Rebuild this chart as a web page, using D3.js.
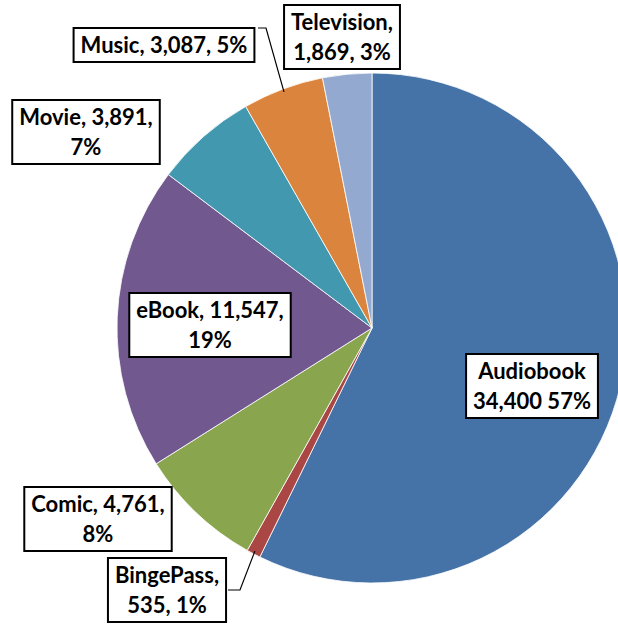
<!DOCTYPE html>
<html>
<head>
<meta charset="utf-8">
<script src="https://cdn.jsdelivr.net/npm/d3@7/dist/d3.min.js"></script>
<style>
  html, body { margin: 0; padding: 0; background: #fff; }
  svg { display: block; }
  text { font-family: Lato, "Liberation Sans", sans-serif; font-weight: bold; }
</style>
</head>
<body>
<svg id="chart" width="618" height="628"></svg>
<script>
// Sales by product category
const categories = ["Audiobook", "BingePass", "Comic", "eBook", "Movie", "Music", "Television"];
const values = [34400, 535, 4761, 11547, 3891, 3087, 1869];
const percentLabels = ["57%", "1%", "8%", "19%", "7%", "5%", "3%"];
const colors = ["#4572A7", "#AA4643", "#89A54E", "#71588F", "#4198AF", "#DB843D", "#93A9CF"];

// Label text lines per category
const fmt = d3.format(",");
function labelLines(i) {
  const c = categories[i], v = fmt(values[i]), p = percentLabels[i];
  switch (c) {
    case "Audiobook": return [c, v + " " + p];
    case "BingePass": return [c + ",", v + ", " + p];
    case "Television": return [c + ",", v + ", " + p];
    case "Music": return [c + ", " + v + ", " + p];
    default: return [c + ", " + v + ",", p];
  }
}

// Label box centres and optional leader lines
const labelLayout = {
  Audiobook: { cx: 532, cy: 386 },
  BingePass: { cx: 167, cy: 590, leader: [[228, 590], [240, 590]] },
  Comic: { cx: 98, cy: 519 },
  eBook: { cx: 210, cy: 325 },
  Movie: { cx: 86, cy: 132 },
  Music: { cx: 164, cy: 45, leader: [[258, 28], [266, 28]] },
  Television: { cx: 342, cy: 37 }
};

const svg = d3.select("#chart");
const cx = 372, cy = 328, r = 255;

const pie = d3.pie().sort(null).value(d => d.value);
const data = categories.map((c, i) => ({ name: c, value: values[i], color: colors[i], i }));
const arcs = pie(data);
const arc = d3.arc().innerRadius(0).outerRadius(r);

const g = svg.append("g").attr("transform", `translate(${cx},${cy})`);
g.selectAll("path.slice")
  .data(arcs)
  .join("path")
  .attr("class", "slice")
  .attr("d", arc)
  .attr("fill", d => d.data.color)
  .attr("stroke", "#ffffff")
  .attr("stroke-width", 0.8);

// Leader lines run from the label box to the slice's outer edge
const edge = d3.arc().innerRadius(r - 3).outerRadius(r - 3);
arcs.forEach(a => {
  const lay = labelLayout[a.data.name];
  if (!lay.leader) return;
  const [ex, ey] = edge.centroid(a);
  const pts = lay.leader.concat([[cx + ex, cy + ey]]);
  svg.append("path")
    .attr("d", d3.line()(pts))
    .attr("fill", "none")
    .attr("stroke", "#000")
    .attr("stroke-width", 1.2);
});

// Labels
const fontSize = 22, lineH = 30, padX = 7, padY = 4;
arcs.forEach(a => {
  const lay = labelLayout[a.data.name];
  const lines = labelLines(a.data.i);
  const lg = svg.append("g");
  const rect = lg.append("rect")
    .attr("fill", "#fff")
    .attr("stroke", "#000")
    .attr("stroke-width", 2);
  const t = lg.append("text")
    .attr("text-anchor", "middle")
    .attr("font-size", fontSize)
    .attr("fill", "#000");
  const y0 = lay.cy - (lines.length - 1) * lineH / 2;
  lines.forEach((ln, k) => {
    t.append("tspan")
      .attr("x", lay.cx)
      .attr("y", y0 + k * lineH)
      .attr("dy", "0.35em")
      .text(ln);
  });
  const bb = t.node().getBBox();
  const h = lines.length * lineH + padY * 2 - 4;
  rect.attr("x", bb.x - padX)
    .attr("y", lay.cy - h / 2)
    .attr("width", bb.width + padX * 2)
    .attr("height", h);
});
</script>
</body>
</html>
